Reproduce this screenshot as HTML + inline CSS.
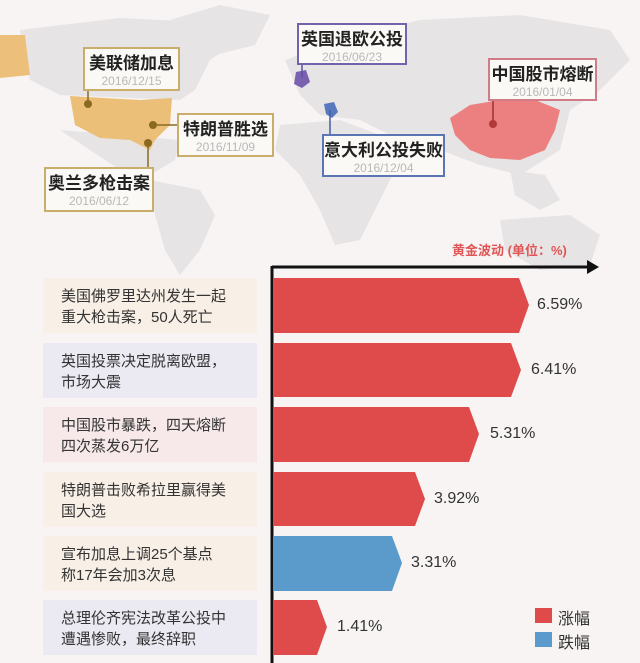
<!DOCTYPE html>
<html><head><meta charset="utf-8"><style>
body{margin:0;width:640px;height:663px;overflow:hidden;background:#f8f4f4;font-family:"Liberation Sans","Noto Sans CJK SC",sans-serif;position:relative}
.box{position:absolute;background:#fbf9f6;border:2px solid;box-sizing:border-box;text-align:center}
.box b{display:block;font-size:17px;color:#222;margin-top:5px;line-height:20px}
.box i{display:block;font-style:normal;font-size:12px;color:#b8b8b8;line-height:14px}
.lab{position:absolute;left:43px;width:214px;height:55px;box-sizing:border-box;padding:8px 0 0 18px;font-size:15px;line-height:21px;color:#333}
.val{position:absolute;font-size:16px;color:#333}
</style></head><body>
<svg width="640" height="663" style="position:absolute;left:0;top:0">
<g fill="#e7e4e5">
<path d="M20,30 L120,18 L200,22 L240,40 L210,60 L195,90 L180,100 L60,95 L30,80 Z"/>
<path d="M170,20 L220,5 L270,15 L255,45 L215,55 Z"/>
<path d="M60,130 L180,140 L175,160 L150,175 L120,170 L90,150 Z"/>
<path d="M150,180 L200,190 L215,215 L200,250 L180,275 L165,250 L155,215 Z"/>
<path d="M285,60 L340,40 L420,20 L520,15 L610,30 L630,60 L600,90 L570,110 L560,150 L520,175 L480,165 L440,150 L400,140 L360,120 L320,115 L300,95 Z"/>
<path d="M280,125 L340,120 L380,135 L400,160 L380,200 L360,240 L335,245 L320,210 L300,175 L275,150 Z"/>
<path d="M510,170 L545,175 L560,200 L540,210 L515,195 Z"/>
<path d="M500,220 L570,215 L600,235 L590,265 L540,270 L505,250 Z"/>
</g>
<path d="M0,35 L25,35 L30,75 L0,78 Z" fill="#ecc07a"/>
<path d="M70,96 L140,100 L172,98 L170,125 L155,140 L150,150 L130,140 L100,138 L75,125 Z" fill="#ecbf78"/>
<path d="M450,118 L470,105 L500,100 L530,98 L560,110 L555,130 L545,150 L520,160 L490,158 L470,150 L455,135 Z" fill="#ec8080"/>
<path d="M296,72 L306,70 L310,82 L302,88 L294,84 Z" fill="#7a62b0"/>
<path d="M324,104 L334,102 L338,112 L332,118 L326,114 Z" fill="#5a78c0"/>
<g stroke="#8a6a20" stroke-width="1.5"><line x1="88" y1="91" x2="88" y2="104"/><line x1="153" y1="125" x2="177" y2="125"/><line x1="148" y1="143" x2="148" y2="167"/></g>
<g fill="#8a6a20"><circle cx="88" cy="104" r="4"/><circle cx="153" cy="125" r="4"/><circle cx="148" cy="143" r="4"/></g>
<line x1="302" y1="65" x2="302" y2="78" stroke="#6050a0" stroke-width="1.5"/>
<line x1="330" y1="110" x2="330" y2="134" stroke="#4060a0" stroke-width="1.5"/>
<line x1="493" y1="101" x2="493" y2="124" stroke="#a03030" stroke-width="1.5"/>
<circle cx="493" cy="124" r="4" fill="#b03a3a"/>
<line x1="272" y1="267" x2="590" y2="267" stroke="#111" stroke-width="3"/>
<path d="M587,260 L599,267 L587,274 Z" fill="#111"/>
<line x1="272" y1="266" x2="272" y2="663" stroke="#111" stroke-width="3"/>
<g fill="#df4b4b">
<path d="M273,278 L519,278 L529,305 L519,333 L273,333 Z"/>
<path d="M273,343 L511,343 L521,370 L511,397 L273,397 Z"/>
<path d="M273,407 L469,407 L479,434 L469,462 L273,462 Z"/>
<path d="M273,472 L415,472 L425,499 L415,526 L273,526 Z"/>
<path d="M273,600 L317,600 L327,627 L317,655 L273,655 Z"/>
</g>
<path d="M273,536 L392,536 L402,563 L392,591 L273,591 Z" fill="#5b9bcb"/>
<rect x="535" y="608" width="17" height="15" fill="#df4b4b"/>
<rect x="535" y="632" width="17" height="15" fill="#5b9bcb"/>
</svg>
<div class="box" style="left:83px;top:47px;width:97px;height:44px;border-color:#c9ad6a"><b>美联储加息</b><i>2016/12/15</i></div>
<div class="box" style="left:177px;top:113px;width:97px;height:44px;border-color:#c9ad6a"><b>特朗普胜选</b><i>2016/11/09</i></div>
<div class="box" style="left:44px;top:167px;width:110px;height:45px;border-color:#c9ad6a"><b>奥兰多枪击案</b><i>2016/06/12</i></div>
<div class="box" style="left:297px;top:23px;width:110px;height:42px;border-color:#7462ac"><b>英国退欧公投</b><i>2016/06/23</i></div>
<div class="box" style="left:322px;top:134px;width:123px;height:43px;border-color:#5a74b4"><b>意大利公投失败</b><i>2016/12/04</i></div>
<div class="box" style="left:488px;top:58px;width:109px;height:43px;border-color:#d07c88"><b>中国股市熔断</b><i>2016/01/04</i></div>
<div style="position:absolute;left:452px;top:240px;font-size:13px;font-weight:bold;color:#e05555">黄金波动 (单位：%)</div>
<div class="lab" style="top:278px;background:#f8efe6">美国佛罗里达州发生一起<br>重大枪击案，50人死亡</div>
<div class="lab" style="top:343px;background:#ebe9f2">英国投票决定脱离欧盟，<br>市场大震</div>
<div class="lab" style="top:407px;background:#f7e8e9">中国股市暴跌，四天熔断<br>四次蒸发6万亿</div>
<div class="lab" style="top:472px;background:#f8efe6">特朗普击败希拉里赢得美<br>国大选</div>
<div class="lab" style="top:536px;background:#f8efe6">宣布加息上调25个基点<br>称17年会加3次息</div>
<div class="lab" style="top:600px;background:#ebe9f2">总理伦齐宪法改革公投中<br>遭遇惨败，最终辞职</div>
<div class="val" style="left:537px;top:296px">6.59%</div>
<div class="val" style="left:531px;top:361px">6.41%</div>
<div class="val" style="left:490px;top:425px">5.31%</div>
<div class="val" style="left:434px;top:490px">3.92%</div>
<div class="val" style="left:411px;top:554px">3.31%</div>
<div class="val" style="left:337px;top:618px">1.41%</div>
<div class="val" style="left:558px;top:605px">涨幅</div>
<div class="val" style="left:558px;top:629px">跌幅</div>
</body></html>
